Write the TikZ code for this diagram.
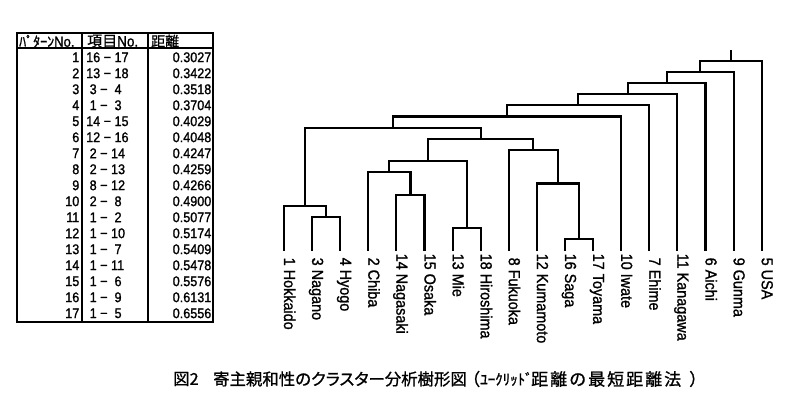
\documentclass[tikz,border=0pt]{standalone}
\usepackage{fontspec}
\setmainfont{Liberation Sans}[FakeStretch=0.9, FakeBold=1.2]
\newfontfamily\jp{Noto Sans CJK JP}[RawFeature=+palt, FakeBold=1.0]
\newfontfamily\jpt{Noto Sans CJK JP}[FakeBold=1.0]
\begin{document}
\begin{tikzpicture}[x=1pt,y=-1pt,
  dend/.style={line width=2.1pt, line join=miter},
  tbl/.style={line width=1.8pt},
  leaflab/.style={rotate=-90, anchor=base west, inner sep=0pt, font=\fontsize{16}{16}\selectfont},
  cellr/.style={anchor=east, inner sep=0pt, font=\fontsize{14}{14}\selectfont},
  celll/.style={anchor=west, inner sep=0pt, font=\fontsize{14}{14}\selectfont},
  captxt/.style={anchor=west, inner sep=0pt, font=\jp\fontsize{16.4}{17}\selectfont},
  capplain/.style={anchor=west, inner sep=0pt, font=\jpt\fontsize{17}{17}\selectfont}]
\useasboundingbox[fill=white] (0,0) rectangle (800,398);

% ---------- table ----------
\draw[tbl] (17,33) rectangle (213,322);
\draw[tbl] (17,48) -- (213,48);
\draw[tbl] (82,33) -- (82,322);
\draw[tbl] (148,33) -- (148,322);
\node[celll] (h1) at (19,41.2) {{\jpt\fontsize{14}{14}\selectfont ﾊﾟﾀｰﾝ}\fontsize{14.5}{15}\selectfont No.};
\node[celll] (h2) at (87,41.2) {{\jpt\fontsize{15}{15}\selectfont 項目}\fontsize{15}{15}\selectfont No.};
\node[celll] (h3) at (151,41.2) {{\jpt\fontsize{14}{14}\selectfont 距離}};
\foreach \i/\a/\b/\d in {1/16/17/0.3027, 2/13/18/0.3422, 3/3/4/0.3518, 4/1/3/0.3704,
  5/14/15/0.4029, 6/12/16/0.4048, 7/2/14/0.4247, 8/2/13/0.4259, 9/8/12/0.4266,
  10/2/8/0.4900, 11/1/2/0.5077, 12/1/10/0.5174, 13/1/7/0.5409, 14/1/11/0.5478,
  15/1/6/0.5576, 16/1/9/0.6131, 17/1/5/0.6556}{
  \pgfmathsetmacro{\yy}{57.3+16*(\i-1)}
  \node[cellr] (r\i) at (79.5,\yy) {\i};
  \node[celll] (p\i) at (86,\yy) {\ifnum\a<10\ \fi\a\ −\ \ifnum\b<10\ \fi\b};
  \node[cellr] (d\i) at (211.5,\yy) {\d};
}

% ---------- dendrogram leaves ----------
\foreach \k/\xx/\lab in {1/284/\ 1 Hokkaido, 2/312.1/\ 3 Nagano, 3/340.2/\ 4 Hyogo,
  4/368.3/\ 2 Chiba, 5/396.4/14 Nagasaki, 6/424.5/15 Osaka, 7/452.6/13 Mie,
  8/480.7/18 Hiroshima, 9/508.8/\ 8 Fukuoka, 10/536.9/12 Kumamoto, 11/565/16 Saga,
  12/593.1/17 Toyama, 13/621.2/10 Iwate, 14/649.3/\ 7 Ehime, 15/677.4/11 Kanagawa,
  16/705.5/\ 6 Aichi, 17/733.6/\ 9 Gunma, 18/761.7/\ 5 USA}{
  \coordinate (L\k) at (\xx,250.7);
  \node[leaflab] (T\k) at (\xx,253.5) {\lab};
}

% ---------- merge points ----------
\coordinate (M1) at (579.05,239.3);
\coordinate (M2) at (466.65,228.14);
\coordinate (M3) at (326.15,216.98);
\coordinate (M4) at (305.075,205.82);
\coordinate (M5) at (410.45,194.66);
\coordinate (M6) at (557.975,183.5);
\coordinate (M7) at (389.375,172.34);
\coordinate (M8) at (428.0125,161.18);
\coordinate (M9) at (533.3875,150.02);
\coordinate (M10) at (480.7,138.86);
\coordinate (M11) at (392.8875,127.7);
\coordinate (M12) at (507.04,116.54);
\coordinate (M13) at (578.17,105.38);
\coordinate (M14) at (627.79,94.22);
\coordinate (M15) at (666.64,83.06);
\coordinate (M16) at (700.12,71.9);
\coordinate (M17) at (730.91,60.74);
\coordinate (R) at (730.91,50);

\draw[dend] (L11) |- (M1) -| (L12);
\draw[dend] (L7) |- (M2) -| (L8);
\draw[dend] (L2) |- (M3) -| (L3);
\draw[dend] (L1) |- (M4) -| (M3);
\draw[dend] (L5) |- (M5) -| (L6);
\draw[dend] (L10) |- (M6) -| (M1);
\draw[dend] (L4) |- (M7) -| (M5);
\draw[dend] (M7) |- (M8) -| (M2);
\draw[dend] (L9) |- (M9) -| (M6);
\draw[dend] (M8) |- (M10) -| (M9);
\draw[dend] (M4) |- (M11) -| (M10);
\draw[dend] (M11) |- (M12) -| (L13);
\draw[dend] (M12) |- (M13) -| (L14);
\draw[dend] (M13) |- (M14) -| (L15);
\draw[dend] (M14) |- (M15) -| (L16);
\draw[dend] (M15) |- (M16) -| (L17);
\draw[dend] (M16) |- (M17) -| (L18);
\draw[dend] (M17) -- (R);

% ---------- caption ----------
\node[captxt] (c1) at (173,379) {図2};
\node[captxt] (c2) at (213,379) {寄主親和性のクラスター分析樹形図};
\node[capplain] (c3) at (463,379) {（};
\node[capplain, font=\jpt\fontsize{15}{17}\selectfont] (c4) at (480,379) {ﾕｰｸﾘｯﾄﾞ};
\node[capplain] (c5) at (531,379) {距\kern2pt 離\kern2pt の\kern2pt 最\kern2pt 短\kern2pt 距\kern2pt 離\kern2pt 法\kern8pt ）};
\end{tikzpicture}
\end{document}
